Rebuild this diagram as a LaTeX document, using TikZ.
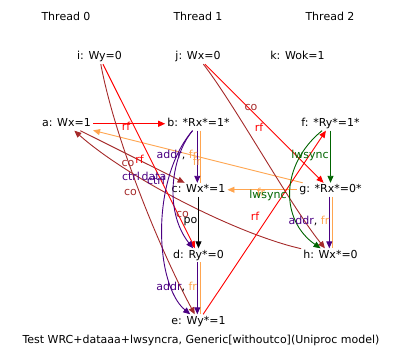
\documentclass[tikz,border=0pt]{standalone}
\usepackage{fontspec}
\setmainfont{DejaVu Sans}
\usetikzlibrary{arrows.meta}
\definecolor{rfc}{RGB}{255,0,0}
\definecolor{coc}{RGB}{165,42,42}
\definecolor{addrc}{RGB}{75,0,130}
\definecolor{frc}{RGB}{255,165,79}
\definecolor{syncc}{RGB}{0,100,0}
\begin{document}
\begin{tikzpicture}[x=1pt,y=-1pt,
  font=\fontsize{11}{13}\selectfont,
  ev/.style={anchor=base, inner sep=2pt, text height=7.5pt, text depth=2pt},
  lab/.style={anchor=base, inner sep=0pt},
  edge/.style={line width=0.9pt, -{Triangle[length=7pt,width=6pt]}},
  plain/.style={line width=0.9pt}]
\useasboundingbox (0,0) rectangle (402,361);
% thread titles
\node[lab] (t0) at (66,20.5) {Thread 0};
\node[lab] (t1) at (198,20.5) {Thread 1};
\node[lab] (t2) at (330,20.5) {Thread 2};
% events
\node[ev] (i) at (99.5,60) {i: Wy=0};
\node[ev] (j) at (198,60) {j: Wx=0};
\node[ev] (k) at (297.5,60) {k: Wok=1};
\node[ev] (a) at (66.5,126.5) {a: Wx=1};
\node[ev] (b) at (198.5,126.5) {b: *Rx*=1*};
\node[ev] (f) at (330.5,126.5) {f: *Ry*=1*};
\node[ev] (c) at (198.5,192.5) {c: Wx*=1};
\node[ev] (g) at (330.5,192.5) {g: *Rx*=0*};
\node[ev] (d) at (198.5,258) {d: Ry*=0};
\node[ev] (h) at (330.5,258) {h: Wx*=0};
\node[ev] (e) at (198.5,324) {e: Wy*=1};
\node[lab] (cap) at (201,343) {Test WRC+dataaa+lwsyncra, Generic[withoutco](Uniproc model)};
% edges
\draw[edge,rfc] (a) -- (b);
\draw[edge,frc] (g) -- (a);
\draw[edge,frc] (g) -- (c);
\draw[edge,coc] (a) -- (c);
\draw[edge,coc] (h) .. controls (240,235) and (130,180) .. (a);
\draw[edge,rfc] (i) -- (d);
\draw[edge,coc] (i) .. controls (115,140) and (160,250) .. (e);
\draw[edge,rfc] (j) -- (g);
\draw[edge,coc] (j) .. controls (235,105) and (290,205) .. (h);
\draw[edge,rfc] (e) -- (f);
\draw[edge,syncc] (f) -- (g);
\draw[edge,syncc] (f) .. controls (280,165) and (280,220) .. (h);
\draw[edge] (c) -- (d);
\draw[edge,addrc] (b) .. controls (172,155) and (163,210) .. (d);
\draw[edge,addrc] (b) .. controls (150,180) and (155,285) .. (e);
% double edges addr+fr
\draw[plain,frc] ([xshift=1.6pt]b.south) -- ([xshift=1.6pt]c.north);
\draw[edge,addrc] ([xshift=-1.2pt]b.south) -- ([xshift=-1.2pt]c.north);
\draw[plain,frc] ([xshift=1.6pt]d.south) -- ([xshift=1.6pt]e.north);
\draw[edge,addrc] ([xshift=-1.2pt]d.south) -- ([xshift=-1.2pt]e.north);
\draw[plain,frc] ([xshift=1.6pt]g.south) -- ([xshift=1.6pt]h.north);
\draw[edge,addrc] ([xshift=-1.2pt]g.south) -- ([xshift=-1.2pt]h.north);
% labels
\node[lab,rfc] (l1) at (126,130.5) {rf};
\node[lab,rfc] (l2) at (139.5,163) {rf};
\node[lab,coc] (l3) at (128,166.5) {co};
\node[lab,coc] (l4) at (130.5,195.5) {co};
\node[lab,coc] (l5) at (182.5,217.5) {co};
\node[lab,addrc] (l6) at (131,180.5) {ctrl};
\node[lab,addrc] (l7) at (154,180.5) {data};
\node[lab,addrc] (l8) at (156,184) {ctrl};
\node[lab] (l9) at (177,158) {\textcolor{addrc}{addr}, \textcolor{frc}{fr}};
\node[lab,frc] (l10) at (197,165.5) {fr};
\node[lab] (l11) at (190.5,223) {po};
\node[lab] (l12) at (176.7,290) {\textcolor{addrc}{addr}, \textcolor{frc}{fr}};
\node[lab,syncc] (l13) at (310,158) {lwsync};
\node[lab,frc] (l14) at (261,196) {fr};
\node[lab,syncc] (l15) at (268,198) {lwsync};
\node[lab,rfc] (l16) at (259,131.5) {rf};
\node[lab,coc] (l17) at (251,110.5) {co};
\node[lab,rfc] (l18) at (255,220) {rf};
\node[lab] (l19) at (309,224.5) {\textcolor{addrc}{addr}, \textcolor{frc}{fr}};
\end{tikzpicture}
\end{document}
